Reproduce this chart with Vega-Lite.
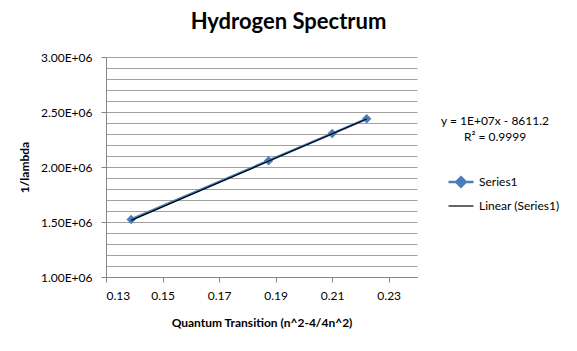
{
  "$schema": "https://vega.github.io/schema/vega-lite/v6.json",
  "autosize": "none",
  "width": 311,
  "height": 220,
  "padding": {"left": 106, "top": 57, "right": 160, "bottom": 74},
  "background": "white",
  "title": {
    "text": "Hydrogen Spectrum",
    "font": "Lato",
    "fontSize": 22,
    "fontWeight": "bold",
    "color": "black",
    "anchor": "middle",
    "dx": 27,
    "offset": 17
  },
  "datasets": {
    "series": [
      {"x": 0.1389, "y": 1523700, "series": "Series1"},
      {"x": 0.1875, "y": 2057200, "series": "Series1"},
      {"x": 0.21, "y": 2304100, "series": "Series1"},
      {"x": 0.2222, "y": 2437800, "series": "Series1"}
    ],
    "trend": [
      {"x": 0.1389, "y": 1515200, "series": "Linear (Series1)"},
      {"x": 0.2222, "y": 2437000, "series": "Linear (Series1)"}
    ],
    "note": [
      {"eq": "y = 1E+07x - 8611.2", "r2": "R² = 0.9999"}
    ]
  },
  "config": {
    "font": "Lato",
    "view": {"stroke": null},
    "axis": {
      "labelFont": "Lato",
      "labelFontSize": 12,
      "labelColor": "black",
      "titleFont": "Lato",
      "titleFontSize": 12,
      "titleFontWeight": "bold",
      "titleColor": "black",
      "domainColor": "#868686",
      "tickColor": "#868686",
      "gridColor": "#A0A0A0",
      "gridWidth": 1,
      "labelOverlap": false
    }
  },
  "layer": [
    {
      "data": {"name": "series"},
      "mark": {"type": "line", "strokeWidth": 2.5, "color": "#4A7EBB"},
      "encoding": {
        "x": {
          "field": "x",
          "type": "quantitative",
          "scale": {"domain": [0.13, 0.24], "nice": false, "zero": false},
          "axis": {
            "title": "Quantum Transition (n^2-4/4n^2)",
            "values": [0.13, 0.15, 0.17, 0.19, 0.21, 0.23],
            "format": ".2f",
            "grid": false,
            "tickSize": 5,
            "labelPadding": 8,
            "titlePadding": 16
          }
        },
        "y": {
          "field": "y",
          "type": "quantitative",
          "scale": {"domain": [1000000, 3000000], "nice": false, "zero": false},
          "axis": {
            "title": "1/lambda",
            "tickCount": 30,
            "values": [1000000, 1100000, 1200000, 1300000, 1400000, 1500000, 1600000, 1700000, 1800000, 1900000, 2000000, 2100000, 2200000, 2300000, 2400000, 2500000, 2600000, 2700000, 2800000, 2900000, 3000000],
            "labelExpr": "datum.value % 500000 === 0 ? replace(format(datum.value, '.2e'), 'e+', 'E+0') : ''",
            "tickOpacity": {"condition": {"test": "datum.value % 500000 === 0", "value": 1}, "value": 0},
            "tickSize": 5,
            "labelPadding": 9,
            "titlePadding": 9
          }
        },
        "color": {
          "field": "series",
          "type": "nominal",
          "scale": {"domain": ["Series1", "Linear (Series1)"], "range": ["#4A7EBB", "#000000"]},
          "legend": {
            "title": null,
            "orient": "none",
            "legendX": 349,
            "legendY": 119,
            "padding": 0,
            "rowPadding": 8,
            "symbolType": "M-1,0L1,0",
            "symbolSize": 625,
            "symbolStrokeWidth": 2.5,
            "labelFont": "Lato",
            "labelFontSize": 12,
            "labelColor": "black",
            "labelOffset": 12,
            "encoding": {
              "symbols": {
                "shape": {"value": {"expr": "datum.value === 'Series1' ? 'M-1,0L1,0M0,-0.38L0.38,0L0,0.38L-0.38,0Z' : 'M-1,0L1,0'"}},
                "fill": {"value": {"expr": "datum.value === 'Series1' ? '#4A7EBB' : 'transparent'"}},
                "strokeWidth": {"value": {"expr": "datum.value === 'Series1' ? 2.5 : 1.2"}}
              }
            }
          }
        }
      }
    },
    {
      "data": {"name": "series"},
      "mark": {"type": "point", "shape": "diamond", "filled": true, "size": 90, "color": "#4A7EBB", "opacity": 1},
      "encoding": {
        "x": {"field": "x", "type": "quantitative"},
        "y": {"field": "y", "type": "quantitative"}
      }
    },
    {
      "data": {"name": "trend"},
      "mark": {"type": "line", "strokeWidth": 1.2},
      "encoding": {
        "x": {"field": "x", "type": "quantitative"},
        "y": {"field": "y", "type": "quantitative"},
        "color": {"field": "series", "type": "nominal"}
      }
    },
    {
      "data": {"name": "note"},
      "mark": {"type": "text", "font": "Lato", "fontSize": 12, "color": "black", "align": "center", "baseline": "middle"},
      "encoding": {
        "x": {"datum": 0.2676},
        "y": {"datum": 2418000},
        "text": {"field": "eq"}
      }
    },
    {
      "data": {"name": "note"},
      "mark": {"type": "text", "font": "Lato", "fontSize": 12, "color": "black", "align": "center", "baseline": "middle"},
      "encoding": {
        "x": {"datum": 0.2676},
        "y": {"datum": 2273000},
        "text": {"field": "r2"}
      }
    }
  ]
}
